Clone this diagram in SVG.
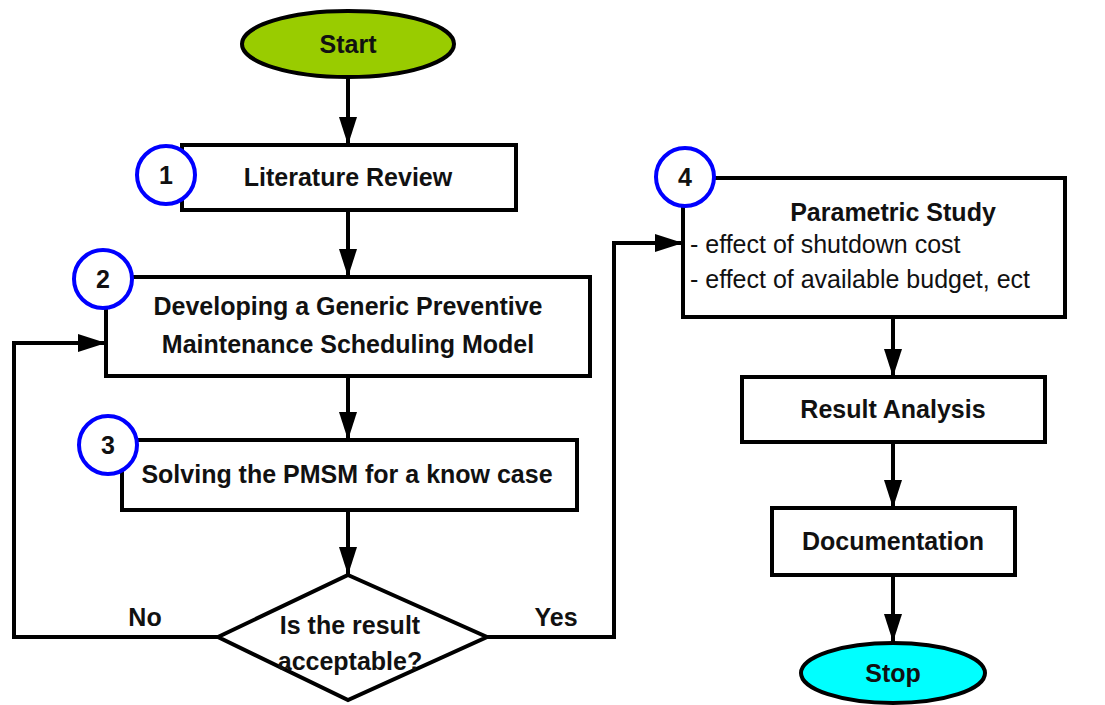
<svg xmlns="http://www.w3.org/2000/svg" width="1105" height="705" viewBox="0 0 1105 705">
<style>
.box{fill:#fff;stroke:#000;stroke-width:4}
.num{fill:#fff;stroke:#0000ff;stroke-width:4}
.t{font-family:"Liberation Sans",Arial,sans-serif;font-size:25px;font-weight:bold;fill:#111;text-anchor:middle}
.r{font-family:"Liberation Sans",Arial,sans-serif;font-size:25px;fill:#111}
.c{fill:none;stroke:#000;stroke-width:4}
</style>
<defs>
<marker id="ah" markerUnits="userSpaceOnUse" markerWidth="28" markerHeight="18" refX="28" refY="9" orient="auto">
<path d="M0,0 L28,9 L0,18 z" fill="#000"/>
</marker>
</defs>
<rect width="1105" height="705" fill="#fff"/>
<g id="connectors">
<path class="c" d="M348,78 V145" marker-end="url(#ah)"/>
<path class="c" d="M348,210 V277" marker-end="url(#ah)"/>
<path class="c" d="M348,376 V440" marker-end="url(#ah)"/>
<path class="c" d="M348,510 V575" marker-end="url(#ah)"/>
<path class="c" d="M218,637 H14 V343 H106" marker-end="url(#ah)"/>
<path class="c" d="M487,637 H614 V243 H683" marker-end="url(#ah)"/>
<path class="c" d="M893,317 V377" marker-end="url(#ah)"/>
<path class="c" d="M893,442 V508" marker-end="url(#ah)"/>
<path class="c" d="M893,575 V642" marker-end="url(#ah)"/>
<text class="t" x="145" y="626">No</text>
<text class="t" x="556" y="626">Yes</text>
</g>
<g id="start">
<ellipse cx="348" cy="44" rx="106" ry="33" fill="#99cc00" stroke="#000" stroke-width="4"/>
<text class="t" x="348" y="53">Start</text>
</g>
<g id="n1">
<rect class="box" x="182" y="145" width="334" height="65"/>
<circle class="num" cx="166" cy="175" r="29"/>
<text class="t" x="166" y="184">1</text>
<text class="t" x="348" y="186">Literature Review</text>
</g>
<g id="n2">
<rect class="box" x="106" y="277" width="484" height="99"/>
<circle class="num" cx="103" cy="279" r="29"/>
<text class="t" x="103" y="288">2</text>
<text class="t" x="348" y="315">Developing a Generic Preventive</text>
<text class="t" x="348" y="353">Maintenance Scheduling Model</text>
</g>
<g id="n3">
<rect class="box" x="122" y="440" width="455" height="70"/>
<circle class="num" cx="108" cy="445" r="29"/>
<text class="t" x="108" y="454">3</text>
<text class="t" x="347" y="483">Solving the PMSM for a know case</text>
</g>
<g id="decision">
<polygon class="box" points="348,575 487,637 348,700 218,637"/>
<text class="t" x="350" y="634">Is the result</text>
<text class="t" x="350" y="670">acceptable?</text>
</g>
<g id="n4">
<rect class="box" x="683" y="178" width="382" height="139"/>
<circle class="num" cx="685" cy="177" r="29"/>
<text class="t" x="685" y="186">4</text>
<text class="t" x="893" y="221">Parametric Study</text>
<text class="r" x="690" y="253">- effect of shutdown cost</text>
<text class="r" x="690" y="288">- effect of available budget, ect</text>
</g>
<g id="analysis">
<rect class="box" x="742" y="377" width="303" height="65"/>
<text class="t" x="893" y="418">Result Analysis</text>
</g>
<g id="documentation">
<rect class="box" x="772" y="508" width="243" height="67"/>
<text class="t" x="893" y="550">Documentation</text>
</g>
<g id="stop">
<ellipse cx="893" cy="673" rx="92" ry="30" fill="#00ffff" stroke="#000" stroke-width="4"/>
<text class="t" x="893" y="682">Stop</text>
</g>
</svg>
